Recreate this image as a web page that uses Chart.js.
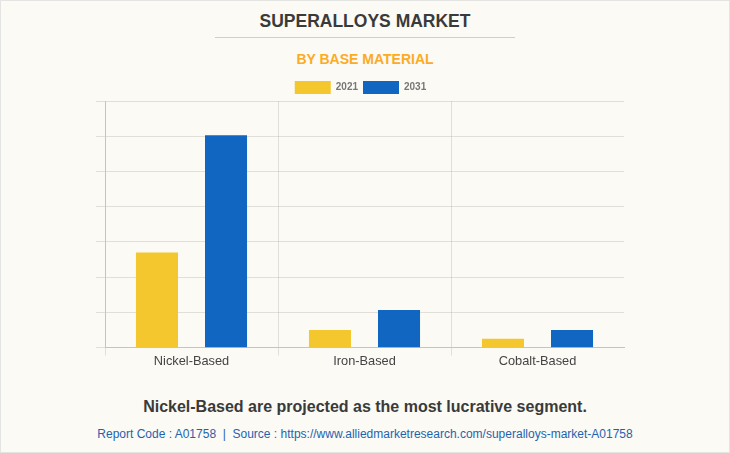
<!DOCTYPE html>
<html>
<head>
<meta charset="utf-8">
<style>
  html, body { margin: 0; padding: 0; }
  body { width: 730px; height: 453px; background: #fbfaf5; font-family: 'Liberation Sans', Arial, sans-serif; overflow: hidden; }
  #frame { position: absolute; left: 0; top: 0; width: 728px; height: 451px; border: 1px solid #e4e4e2; }
  .line { position: absolute; left: 0; width: 730px; text-align: center; white-space: nowrap; }
  #title { top: 11px; font-size: 17.5px; font-weight: bold; color: #3a3a3a; }
  #rule { position: absolute; left: 215px; top: 37px; width: 300px; height: 1px; background: #cfcfca; }
  #subtitle { top: 51px; font-size: 14px; font-weight: bold; color: #fbab24; }
  #note { top: 398px; font-size: 16px; font-weight: bold; color: #3a3a3a; }
  #source { top: 427px; font-size: 12px; color: #1f63ae; }
  #wrap { position: absolute; left: 0; top: 73px; width: 730px; height: 294px; }
</style>
</head>
<body>
<div id="frame"></div>
<div class="line" id="title">SUPERALLOYS MARKET</div>
<div id="rule"></div>
<div class="line" id="subtitle">BY BASE MATERIAL</div>
<div id="wrap"><canvas id="chart"></canvas></div>
<div class="line" id="note">Nickel-Based are projected as the most lucrative segment.</div>
<div class="line" id="source">Report Code : A01758&nbsp; |&nbsp; Source : https://www.alliedmarketresearch.com/superalloys-market-A01758</div>
<script src="https://cdn.jsdelivr.net/npm/chart.js@4/dist/chart.umd.min.js"></script>
<script>
// Values, in grid steps (the reference shows no y labels)
const categories = ['Nickel-Based', 'Iron-Based', 'Cobalt-Based'];
const values2021 = [2.7, 0.5, 0.25];
const values2031 = [6.03, 1.07, 0.5];
const seriesNames = ['2021', '2031'];
const Y_MAX = 7;

const FONT_FAMILY = "'Liberation Sans', Arial, sans-serif";
const GRID = 'rgba(120, 120, 105, 0.2)';
const AXIS = '#c4c4c0';

function makeDataset(label, data, color) {
  return {
    label,
    data,
    backgroundColor: color,
    borderColor: color,
    borderWidth: 0,
    barPercentage: 0.609,
    categoryPercentage: 0.798,
  };
}

// Legend sits closer to the plot than Chart.js lays it out by default
const nudgeLegend = {
  id: 'nudgeLegend',
  afterLayout(chart) {
    chart.legend.top += 3;
    chart.legend.bottom += 3;
    chart.legend.left += 0.5;
    chart.legend.right += 0.5;
  },
};

new Chart(document.getElementById('chart'), {
  type: 'bar',
  plugins: [nudgeLegend],
  data: {
    labels: categories,
    datasets: [
      makeDataset(seriesNames[0], values2021, '#f5c72e'),
      makeDataset(seriesNames[1], values2031, '#1166c1'),
    ],
  },
  options: {
    responsive: true,
    maintainAspectRatio: false,
    animation: false,
    layout: { padding: { left: 96, right: 106, top: 0, bottom: 0 } },
    plugins: {
      tooltip: { enabled: false },
      legend: {
        position: 'top',
        labels: {
          boxWidth: 36,
          boxHeight: 13,
          padding: 5,
          color: '#777777',
          font: { family: FONT_FAMILY, size: 10, weight: 'bold' },
        },
      },
    },
    scales: {
      x: {
        // the closing line at the right end has no tick behind it, and the reference omits it
        grid: {
          color: ctx => (ctx.tick ? GRID : 'transparent'),
          tickLength: 8,
          offset: true,
        },
        border: { color: AXIS },
        ticks: { color: '#444444', padding: -2, font: { family: FONT_FAMILY, size: 12.8 } },
      },
      y: {
        min: 0,
        max: Y_MAX,
        grid: { color: GRID, tickLength: 9 },
        border: { color: AXIS },
        ticks: { stepSize: 1, padding: 0, callback: () => '' },
      },
    },
  },
});
</script>
</body>
</html>
